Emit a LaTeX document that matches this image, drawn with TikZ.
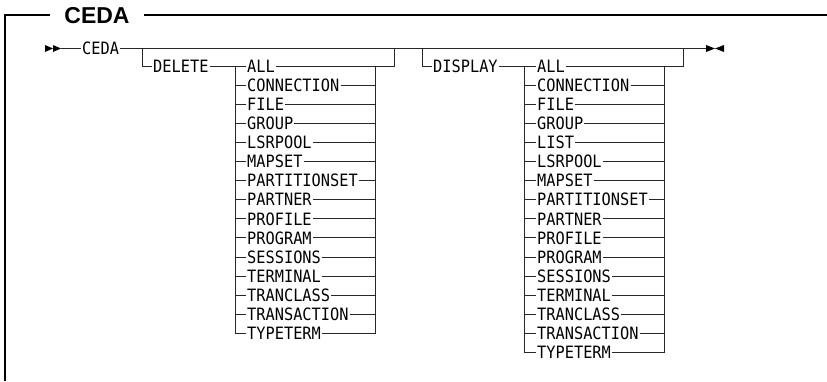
\documentclass[tikz,border=0pt]{standalone}
\usepackage{fontspec}
\usepackage{tikz}
\usetikzlibrary{calc, positioning}
\newfontfamily\railfont[FakeStretch=0.9]{DejaVu Sans Mono}
\newfontfamily\headfont{Liberation Sans}
\definecolor{railgray}{RGB}{40, 40, 40}

\tikzset{
  rail/.style={draw=railgray, line width=0.9pt},
  frameline/.style={draw=black, line width=2pt},
  railtip/.style={fill=black},
  kw/.style={font=\railfont\fontsize{17pt}{17pt}\selectfont, inner xsep=1pt,
    inner ysep=0pt, text height=12.4pt, text depth=0pt, anchor=west},
  headline/.style={font=\headfont\bfseries\fontsize{23pt}{23pt}\selectfont,
    inner xsep=14pt, inner ysep=0pt}
}

\begin{document}
\begin{tikzpicture}[x=1pt, y=-1pt]
  \useasboundingbox (0,0) rectangle (827,381);

  % --- frame with heading ---
  \node[headline] (title) at (97,16) {CEDA};
  \draw[frameline] (title.west |- 0,15) -- (5,15) -- (5,381);
  \draw[frameline] (title.east |- 0,15) -- (827,15);

  % --- main line ---
  \fill[railtip] (45,45) -- (53,48.5) -- (45,52) -- cycle;
  \fill[railtip] (53,45) -- (61,48.5) -- (53,52) -- cycle;
  \coordinate (start) at (61,48.5);
  \node[kw] (ceda) at (81,48.5) {CEDA};
  \coordinate (stop) at (706,48.5);
  \draw[rail] (start) -- (ceda.west);
  \draw[rail] (ceda.east) -- (stop);
  \fill[railtip] (706,45) -- (715,48.5) -- (706,52) -- cycle;
  \fill[railtip] (724,45) -- (715,48.5) -- (724,52) -- cycle;

  % --- DELETE branch ---
  \coordinate (delB) at (142,48.5);
  \coordinate (delL) at (235,66);
  \coordinate (delR) at (375,66);
  \coordinate (delJ) at (394,48.5);
  \node[kw] (delete) at (152,66) {DELETE};
  \draw[rail] (delB) |- (delete.west);
  \foreach \name [count=\i] in {ALL, CONNECTION, FILE, GROUP, LSRPOOL,
      MAPSET, PARTITIONSET, PARTNER, PROFILE, PROGRAM, SESSIONS, TERMINAL,
      TRANCLASS, TRANSACTION, TYPETERM}
    \node[kw] (del\i) at (246,{66+19.1*(\i-1)}) {\name};
  \draw[rail] (delete.east) -- (del1.west);
  \draw[rail] (del1.east) -| (delJ);
  \draw[rail] (delL) -- (delL |- del15.west) -- (del15.west);
  \draw[rail] (delR) -- (delR |- del15.east) -- (del15.east);
  \foreach \i in {2,...,14} {
    \draw[rail] (delL |- del\i.west) -- (del\i.west);
    \draw[rail] (del\i.east) -- (delR |- del\i.east);
  }

  % --- DISPLAY branch ---
  \coordinate (disB) at (422,48.5);
  \coordinate (disL) at (524,66);
  \coordinate (disR) at (664,66);
  \coordinate (disJ) at (683,48.5);
  \node[kw] (display) at (432,66) {DISPLAY};
  \draw[rail] (disB) |- (display.west);
  \foreach \name [count=\i] in {ALL, CONNECTION, FILE, GROUP, LIST, LSRPOOL,
      MAPSET, PARTITIONSET, PARTNER, PROFILE, PROGRAM, SESSIONS, TERMINAL,
      TRANCLASS, TRANSACTION, TYPETERM}
    \node[kw] (dis\i) at (536,{66+19.1*(\i-1)}) {\name};
  \draw[rail] (display.east) -- (dis1.west);
  \draw[rail] (dis1.east) -| (disJ);
  \draw[rail] (disL) -- (disL |- dis16.west) -- (dis16.west);
  \draw[rail] (disR) -- (disR |- dis16.east) -- (dis16.east);
  \foreach \i in {2,...,15} {
    \draw[rail] (disL |- dis\i.west) -- (dis\i.west);
    \draw[rail] (dis\i.east) -- (disR |- dis\i.east);
  }

\end{tikzpicture}
\end{document}
